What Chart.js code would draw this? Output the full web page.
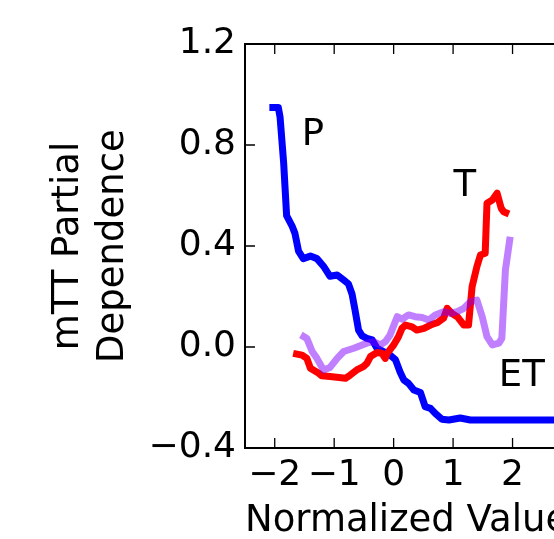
<!DOCTYPE html>
<html>
<head>
<meta charset="utf-8">
<script src="https://cdn.jsdelivr.net/npm/chart.js@4"></script>
<style>
  html, body { margin: 0; padding: 0; background: #fff; }
  #wrap { width: 554px; height: 539px; overflow: hidden; }
</style>
</head>
<body>
<div id="wrap"><canvas id="pd" width="620" height="560"></canvas></div>
<script>
// partial dependence curves
const xP  = [-2.09, -1.94, -1.91, -1.85, -1.80, -1.71, -1.66, -1.60, -1.52, -1.40, -1.29, -1.18, -1.07, -0.95, -0.84, -0.76, -0.70, -0.65, -0.59, -0.53, -0.45, -0.36, -0.28, -0.17, -0.06, 0.03, 0.11, 0.17, 0.25, 0.34, 0.45, 0.53, 0.62, 0.70, 0.81, 0.93, 1.12, 1.29, 1.74, 2.95];
const yP  = [0.949, 0.949, 0.91, 0.73, 0.52, 0.48, 0.45, 0.38, 0.35, 0.36, 0.35, 0.32, 0.28, 0.285, 0.265, 0.25, 0.21, 0.147, 0.067, 0.044, 0.034, 0.028, -0.005, -0.018, -0.032, -0.05, -0.10, -0.13, -0.144, -0.17, -0.18, -0.236, -0.243, -0.263, -0.286, -0.289, -0.281, -0.289, -0.289, -0.289];

const xT  = [-1.69, -1.54, -1.46, -1.40, -1.26, -1.21, -1.07, -0.81, -0.73, -0.62, -0.51, -0.45, -0.39, -0.28, -0.20, -0.14, -0.11, 0.0, 0.08, 0.14, 0.20, 0.31, 0.39, 0.51, 0.62, 0.73, 0.84, 0.90, 0.98, 1.07, 1.18, 1.26, 1.32, 1.40, 1.46, 1.54, 1.57, 1.66, 1.74, 1.81, 1.85, 1.94];
const yT  = [-0.025, -0.032, -0.045, -0.084, -0.104, -0.114, -0.117, -0.124, -0.111, -0.091, -0.078, -0.065, -0.038, -0.022, -0.025, -0.045, -0.025, 0.008, 0.04, 0.074, 0.087, 0.08, 0.067, 0.074, 0.087, 0.096, 0.114, 0.153, 0.133, 0.12, 0.087, 0.087, 0.239, 0.318, 0.364, 0.371, 0.569, 0.582, 0.609, 0.549, 0.536, 0.527];

const xET = [-1.56, -1.46, -1.37, -1.29, -1.18, -1.07, -0.95, -0.84, -0.67, -0.53, -0.45, -0.34, -0.22, -0.14, -0.06, 0.06, 0.14, 0.25, 0.36, 0.48, 0.59, 0.70, 0.84, 0.95, 1.07, 1.18, 1.29, 1.40, 1.49, 1.57, 1.66, 1.77, 1.82, 1.88, 1.96];
const yET = [0.048, 0.034, -0.018, -0.045, -0.091, -0.081, -0.045, -0.018, -0.005, 0.008, 0.015, 0.021, 0.008, 0.021, 0.048, 0.12, 0.11, 0.127, 0.12, 0.117, 0.107, 0.127, 0.14, 0.133, 0.14, 0.153, 0.18, 0.186, 0.12, 0.041, 0.008, 0.015, 0.034, 0.305, 0.437];

const xTicks = [-2, -1, 0, 1, 2, 3];
const yTicks = [-0.4, 0.0, 0.4, 0.8, 1.2];

const curveNames = ["P", "T", "ET"];
const namePos = [[-1.357, 0.80], [1.195, 0.599], [2.155, -0.154]];

const pts = (xs, ys) => xs.map((x, i) => ({x: x, y: ys[i]}));
const minus = v => String(v).replace('-', '\u2212');
const font = 'DejaVu Sans';

// matplotlib-style frame: inward ticks + top/right spines
const framePlugin = {
  id: 'frame',
  afterDraw(chart) {
    const {ctx, chartArea: a, scales: {x, y}} = chart;
    ctx.save();
    ctx.strokeStyle = '#000';
    ctx.lineWidth = 2;
    ctx.beginPath();
    ctx.moveTo(a.left, a.top); ctx.lineTo(a.right, a.top); ctx.lineTo(a.right, a.bottom);
    ctx.stroke();
    ctx.lineWidth = 1.3;
    ctx.beginPath();
    xTicks.forEach(v => {
      const p = x.getPixelForValue(v);
      ctx.moveTo(p, a.bottom); ctx.lineTo(p, a.bottom - 10);
      ctx.moveTo(p, a.top); ctx.lineTo(p, a.top + 10);
    });
    yTicks.forEach(v => {
      const p = y.getPixelForValue(v);
      ctx.moveTo(a.left, p); ctx.lineTo(a.left + 10, p);
      ctx.moveTo(a.right, p); ctx.lineTo(a.right - 10, p);
    });
    ctx.stroke();
    ctx.restore();
  }
};

const namesPlugin = {
  id: 'names',
  afterDatasetsDraw(chart) {
    const {ctx, scales: {x, y}} = chart;
    ctx.save();
    ctx.fillStyle = '#000';
    ctx.font = '37px "' + font + '"';
    ctx.textAlign = 'center';
    ctx.textBaseline = 'alphabetic';
    curveNames.forEach((n, i) => {
      ctx.fillText(n, x.getPixelForValue(namePos[i][0]), y.getPixelForValue(namePos[i][1]));
    });
    ctx.restore();
  }
};

const lineStyle = {pointRadius: 0, borderWidth: 7, tension: 0, fill: false, borderJoinStyle: 'round'};

new Chart(document.getElementById('pd'), {
  type: 'line',
  data: {
    datasets: [
      Object.assign({label: 'P', data: pts(xP, yP), borderColor: '#0000ff', order: 2}, lineStyle),
      Object.assign({label: 'T', data: pts(xT, yT), borderColor: '#ff0000', order: 1}, lineStyle),
      Object.assign({label: 'ET', data: pts(xET, yET), borderColor: 'rgba(127,0,255,0.5)', order: 0}, lineStyle)
    ]
  },
  options: {
    responsive: false,
    animation: false,
    devicePixelRatio: 1,
    layout: {padding: {top: 44, right: 48, left: 0, bottom: 0}},
    plugins: {legend: {display: false}, tooltip: {enabled: false}},
    scales: {
      x: {
        type: 'linear',
        min: -2.5, max: 3,
        afterBuildTicks: s => { s.ticks = xTicks.map(v => ({value: v})); },
        afterFit: s => { s.height = 112; },
        grid: {display: true, drawOnChartArea: false, drawTicks: false},
        border: {display: true, color: '#000', width: 2},
        ticks: {
          color: '#000', padding: 6, maxRotation: 0, autoSkip: false,
          font: {family: font, size: 36},
          callback: v => minus(v)
        },
        title: {
          display: true, text: 'Normalized Value', align: 'start', color: '#000',
          font: {family: font, size: 37}, padding: {top: 0, bottom: 16}
        }
      },
      y: {
        min: -0.4, max: 1.2,
        afterBuildTicks: s => { s.ticks = yTicks.map(v => ({value: v})); },
        afterFit: s => { s.width = 245; },
        grid: {display: true, drawOnChartArea: false, drawTicks: false},
        border: {display: true, color: '#000', width: 2},
        ticks: {
          color: '#000', padding: 9,
          font: {family: font, size: 36},
          callback: v => minus(v.toFixed(1))
        },
        title: {
          display: true, text: ['mTT Partial', 'Dependence'], color: '#000',
          font: {family: font, size: 37, lineHeight: 1.22}, padding: {top: 46, bottom: 0}
        }
      }
    }
  },
  plugins: [framePlugin, namesPlugin]
});
</script>
</body>
</html>
